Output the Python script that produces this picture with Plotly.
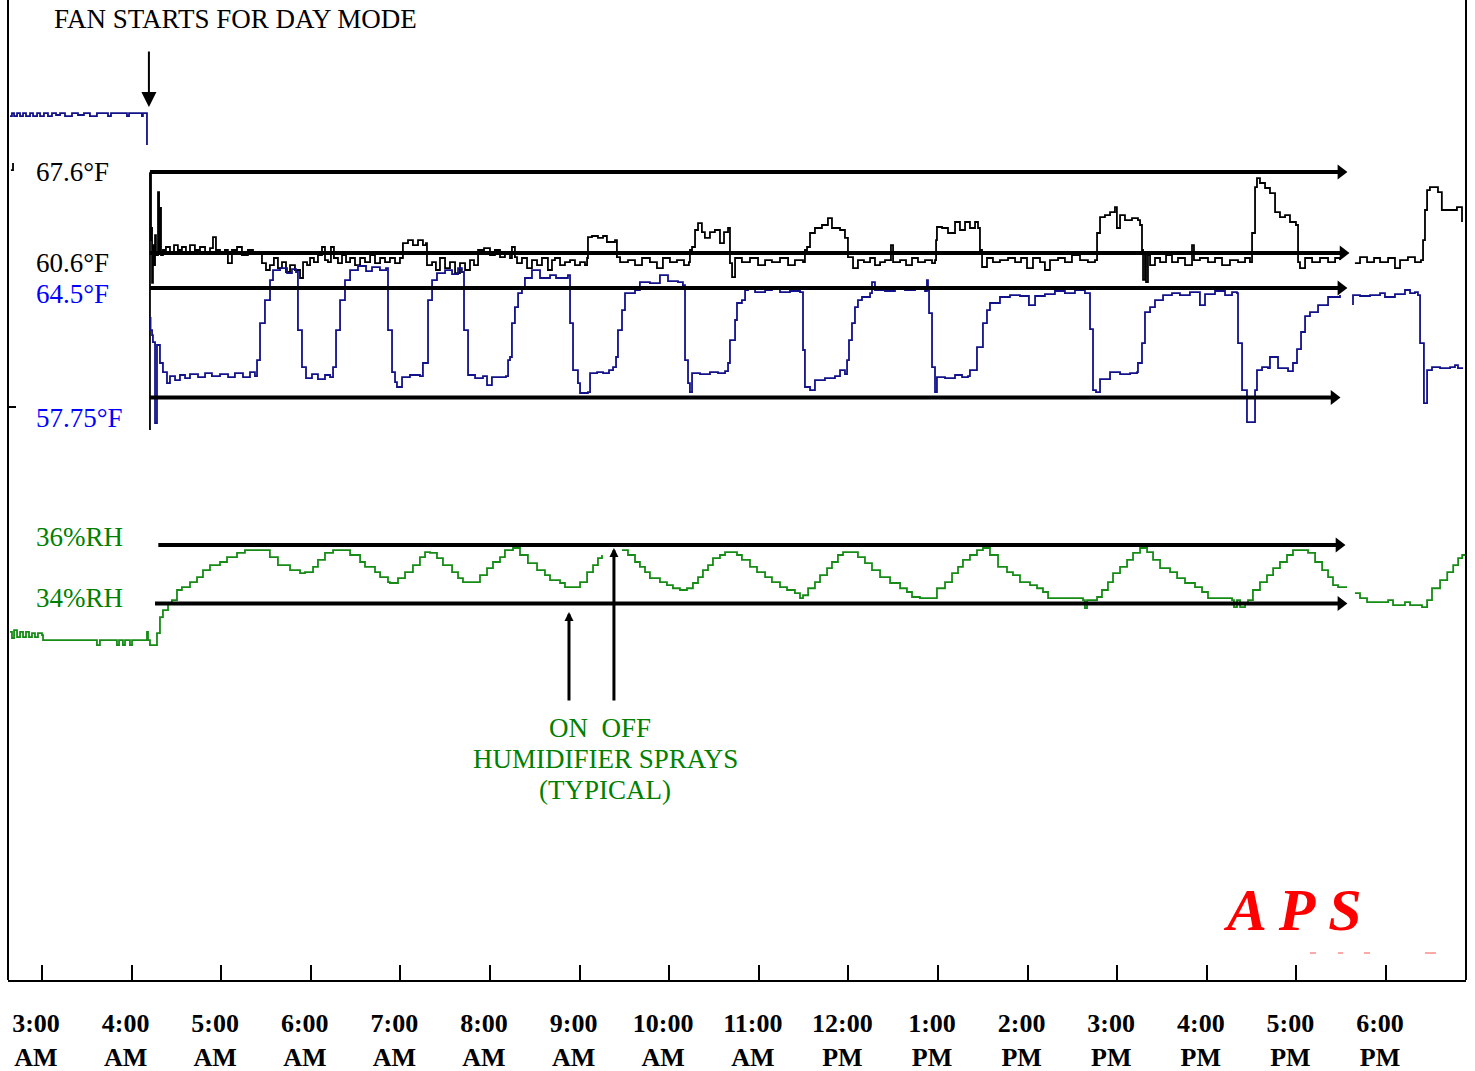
import plotly.graph_objects as go

FONT = "Liberation Serif"

# ---------------- axis ticks (minutes after midnight) ----------------
tick_minutes = [180, 240, 300, 360, 420, 480, 540, 600, 660, 720, 780, 840, 900, 960, 1020, 1080]
tick_labels = ["3:00<br>AM", "4:00<br>AM", "5:00<br>AM", "6:00<br>AM", "7:00<br>AM", "8:00<br>AM",
               "9:00<br>AM", "10:00<br>AM", "11:00<br>AM", "12:00<br>PM", "1:00<br>PM", "2:00<br>PM",
               "3:00<br>PM", "4:00<br>PM", "5:00<br>PM", "6:00<br>PM"]

# ---------------- blue temperature (°F) : (minute, value) ----------------
blue_night = [(158.6, 75.10), (159.9, 75.29), (161.3, 75.10), (163.3, 75.29), (165.3, 75.10), (167.3, 75.29),
              (169.3, 75.10), (172.0, 75.29), (174.0, 75.10), (176.7, 75.29), (178.7, 75.10), (181.3, 75.29),
              (184.0, 75.10), (186.7, 75.29), (189.4, 75.17), (192.1, 75.29), (195.4, 75.10), (200.1, 75.29),
              (204.1, 75.17), (208.1, 75.29), (212.1, 75.10), (216.8, 75.29), (221.5, 75.29), (224.2, 75.10),
              (226.2, 75.29), (235.6, 75.29), (236.9, 75.10), (238.3, 75.29), (245.6, 75.29), (246.9, 75.10),
              (247.6, 75.29), (250.3, 75.29), (250.3, 73.32)]
blue_day = [(252.7, 62.71), (252.7, 61.91), (253.7, 61.60), (254.3, 61.17), (255.7, 56.18), (257.0, 60.99),
            (259.0, 59.88), (261.0, 59.32), (263.7, 58.64), (265.7, 59.07), (269.1, 58.83), (272.4, 59.14),
            (275.8, 58.95), (279.1, 59.20), (284.5, 59.01), (289.2, 59.26), (293.8, 59.07), (299.2, 59.20),
            (304.6, 59.01), (309.2, 59.26), (314.6, 59.01), (319.3, 59.32), (322.6, 59.07), (324.0, 60.06),
            (326.0, 62.34), (329.3, 63.76), (332.7, 64.99), (334.7, 65.61), (339.4, 65.73), (344.1, 65.42),
            (347.4, 65.67), (350.1, 65.49), (351.4, 61.91), (354.1, 59.63), (356.8, 58.95), (360.8, 59.20),
            (364.8, 58.89), (369.5, 59.14), (372.9, 59.01), (374.9, 59.63), (376.9, 61.91), (379.6, 63.76),
            (382.9, 64.99), (386.3, 65.61), (391.6, 65.86), (397.0, 65.55), (401.0, 65.79), (406.3, 65.61),
            (410.4, 65.73), (411.7, 61.91), (414.4, 59.32), (416.4, 58.70), (417.7, 58.40), (421.1, 59.01),
            (426.4, 59.14), (433.1, 59.07), (435.1, 59.88), (438.5, 63.76), (441.2, 64.99), (444.5, 65.42),
            (449.9, 65.61), (454.6, 65.36), (458.6, 65.73), (461.2, 65.49), (462.6, 61.91), (465.3, 59.14),
            (470.0, 58.95), (475.3, 59.07), (478.0, 58.52), (481.3, 59.01), (486.7, 59.01), (490.7, 59.07),
            (492.1, 60.06), (493.4, 60.25), (494.7, 62.34), (496.7, 63.33), (498.8, 64.19), (501.4, 64.56),
            (503.4, 65.12), (508.1, 65.61), (513.5, 65.12), (520.2, 65.30), (524.2, 65.12), (532.2, 65.30),
            (533.6, 62.34), (535.6, 59.44), (538.9, 58.64), (540.3, 58.03), (545.6, 58.09), (547.0, 59.26),
            (551.7, 59.32), (555.7, 59.26), (559.7, 59.44), (562.4, 59.63), (564.4, 60.25), (565.7, 61.91),
            (568.4, 63.14), (570.4, 64.19), (577.1, 64.38), (580.4, 64.87), (587.1, 64.81), (593.8, 65.30),
            (599.2, 64.93), (605.9, 64.87), (609.2, 64.68), (610.6, 60.06), (612.6, 58.64), (613.9, 58.09),
            (615.3, 59.26), (620.6, 59.20), (627.3, 59.32), (632.7, 59.26), (637.4, 59.38), (639.4, 59.88),
            (640.7, 61.29), (644.1, 62.53), (645.4, 63.58), (648.7, 63.76), (650.8, 64.38), (652.8, 64.56),
            (657.5, 64.25), (664.2, 64.38), (668.8, 64.56), (674.2, 64.25), (680.9, 64.32), (687.6, 64.25),
            (688.9, 64.25), (689.6, 60.68), (690.9, 58.40), (694.3, 58.21), (697.6, 58.83), (704.3, 58.95),
            (711.0, 59.07), (714.4, 59.44), (717.7, 59.20), (719.1, 60.06), (720.4, 61.29), (722.4, 62.34),
            (724.4, 63.33), (726.4, 63.76), (729.1, 63.95), (734.5, 64.19), (735.8, 64.87), (737.8, 64.38),
            (744.5, 64.32), (751.2, 64.50), (757.9, 64.38), (764.6, 64.44), (771.3, 64.32), (772.6, 64.99),
            (773.3, 64.38), (774.0, 62.96), (776.0, 59.63), (778.0, 58.09), (779.3, 59.01), (784.7, 58.95),
            (791.4, 59.14), (796.1, 59.01), (800.1, 59.07), (801.4, 59.44), (806.1, 60.86), (810.1, 62.34),
            (812.8, 63.14), (814.8, 63.58), (821.5, 63.95), (828.2, 64.07), (834.9, 64.01), (840.9, 63.45),
            (845.0, 64.01), (851.6, 64.13), (858.3, 64.32), (865.0, 64.19), (871.7, 64.38), (878.4, 64.19),
            (881.1, 64.19), (881.8, 61.97), (883.8, 58.21), (885.8, 58.09), (888.5, 58.89), (895.2, 59.32),
            (901.9, 59.20), (908.6, 59.26), (913.3, 59.32), (913.9, 59.88), (916.6, 61.11), (918.6, 63.02),
            (922.0, 63.33), (925.3, 63.76), (930.7, 64.07), (936.7, 64.19), (942.0, 64.07), (948.7, 64.25),
            (955.4, 63.45), (958.8, 64.13), (965.5, 64.32), (972.2, 64.07), (976.9, 64.25), (980.2, 64.19),
            (980.9, 61.11), (983.6, 58.21), (986.9, 56.24), (990.9, 56.24), (992.3, 58.21), (993.6, 59.44),
            (997.0, 59.63), (1001.0, 59.57), (1002.3, 60.25), (1007.7, 59.57), (1014.4, 59.38), (1017.7, 59.88),
            (1020.4, 60.74), (1023.1, 61.79), (1025.8, 62.77), (1029.1, 63.02), (1034.5, 63.45), (1041.2, 63.95),
            (1049.2, 64.07)]
blue_evening = [(1057.9, 63.45), (1057.9, 64.07), (1062.6, 64.01), (1069.3, 64.07), (1076.0, 64.19),
                (1079.3, 63.95), (1086.0, 64.13), (1092.7, 64.38), (1096.1, 64.19), (1099.4, 64.25),
                (1101.4, 64.07), (1102.8, 61.11), (1105.4, 57.41), (1107.5, 59.44), (1110.8, 59.63),
                (1116.2, 59.57), (1122.9, 59.63), (1126.2, 59.75), (1128.2, 59.57), (1131.6, 59.57)]

# ---------------- black temperature (°F) ----------------
black_night = [(159.2, 67.77), (160.6, 68.38)]
black_day = [(252.3, 45.30), (252.3, 67.51), (253.0, 61.72), (253.7, 62.85), (253.7, 58.01), (254.3, 61.29),
             (255.0, 59.56), (255.7, 62.15), (256.3, 60.43), (257.7, 65.87), (258.4, 60.86), (259.0, 64.49),
             (259.7, 60.43), (261.0, 60.86), (263.0, 61.12), (265.7, 60.69), (268.4, 61.29), (271.0, 60.86),
             (273.7, 61.12), (276.4, 60.60), (279.1, 61.29), (282.4, 60.86), (285.8, 61.12), (289.2, 60.69),
             (292.5, 61.03), (294.5, 61.98), (296.5, 60.86), (299.2, 60.60), (302.5, 60.86), (304.5, 59.73),
             (307.2, 60.86), (310.6, 61.12), (313.9, 60.43), (317.9, 60.86), (321.3, 60.60), (324.6, 60.69),
             (327.3, 59.73), (330.0, 59.13), (332.6, 59.56), (335.3, 60.17), (338.0, 59.30), (340.7, 59.82),
             (343.4, 58.96), (346.1, 59.56), (349.4, 59.13), (352.8, 58.44), (354.8, 59.82), (357.5, 59.56),
             (359.5, 60.17), (362.1, 59.82), (364.8, 60.43), (367.5, 61.12), (369.5, 59.99), (371.5, 59.82),
             (373.5, 61.12), (375.5, 60.17), (378.2, 59.73), (380.9, 60.43), (383.6, 59.82), (386.3, 60.17),
             (389.6, 59.56), (393.0, 60.17), (396.3, 59.82), (399.7, 60.43), (403.0, 59.73), (406.4, 60.17),
             (409.7, 59.82), (413.0, 60.17), (416.4, 59.73), (419.7, 60.17), (421.7, 61.46), (425.1, 61.72),
             (428.4, 61.29), (431.8, 61.72), (435.1, 61.29), (437.1, 61.46), (437.8, 59.56), (441.2, 59.82),
             (443.8, 59.13), (446.5, 60.17), (449.9, 59.30), (453.2, 59.82), (456.6, 58.87), (459.9, 59.73),
             (463.3, 59.13), (466.6, 59.99), (469.3, 59.56), (472.0, 60.86), (476.0, 61.03), (480.0, 60.43),
             (483.3, 60.86), (486.7, 60.25), (490.0, 60.60), (493.4, 60.17), (494.7, 61.12), (496.7, 60.25),
             (498.1, 59.73), (501.4, 60.17), (504.8, 59.30), (508.1, 59.99), (511.5, 59.56), (514.8, 60.17),
             (518.8, 59.13), (521.5, 59.99), (523.5, 60.17), (526.9, 59.56), (530.2, 59.82), (533.6, 59.99),
             (536.9, 59.56), (540.3, 59.82), (543.6, 59.56), (545.0, 60.17), (545.6, 61.98), (548.3, 62.07),
             (552.3, 61.90), (555.7, 62.07), (558.3, 61.55), (562.4, 61.55), (563.7, 61.72), (565.0, 60.25),
             (567.1, 59.82), (572.4, 59.99), (577.1, 59.56), (581.8, 60.17), (587.1, 59.82), (591.8, 59.30),
             (595.8, 60.17), (600.5, 59.82), (605.2, 59.99), (609.9, 59.56), (613.2, 59.82), (613.9, 60.86),
             (615.3, 61.12), (617.3, 62.59), (619.3, 63.19), (621.9, 62.41), (623.9, 61.90), (627.3, 62.41),
             (630.6, 62.59), (634.0, 61.46), (636.7, 62.41), (639.4, 62.76), (640.7, 59.73), (642.1, 58.52),
             (644.1, 60.17), (648.7, 59.82), (654.1, 60.17), (659.5, 59.56), (664.2, 59.99), (668.8, 59.82),
             (674.2, 60.17), (679.6, 59.56), (684.2, 59.99), (689.6, 59.82), (690.9, 60.86), (692.3, 61.12),
             (694.3, 62.33), (697.6, 62.76), (702.3, 63.02), (706.3, 63.62), (709.0, 62.76), (711.0, 62.76),
             (714.4, 62.59), (717.7, 61.90), (719.1, 61.90), (719.7, 60.25), (723.1, 59.30), (726.4, 59.99),
             (730.4, 59.82), (734.5, 60.17), (737.8, 59.56), (741.2, 59.82), (744.5, 59.99), (748.5, 61.29),
             (749.9, 59.82), (754.6, 59.99), (758.6, 59.56), (762.6, 60.17), (766.6, 59.82), (771.3, 59.99),
             (776.0, 59.73), (778.0, 59.99), (778.7, 61.72), (779.3, 62.85), (782.7, 62.76), (786.7, 62.33),
             (791.4, 63.28), (794.7, 62.59), (798.1, 63.28), (801.4, 62.76), (804.8, 63.28), (806.8, 62.76),
             (808.1, 60.86), (809.5, 59.39), (812.8, 60.17), (816.8, 59.82), (821.5, 59.99), (826.9, 60.17),
             (831.6, 59.82), (835.6, 60.17), (839.6, 59.30), (843.6, 60.17), (848.3, 59.82), (851.6, 59.13),
             (855.0, 59.99), (860.4, 60.17), (865.0, 59.82), (869.7, 60.43), (875.1, 59.99), (880.4, 59.82),
             (885.1, 59.99), (886.5, 62.33), (888.5, 63.71), (891.8, 63.88), (895.2, 64.14), (898.5, 64.57),
             (899.8, 62.76), (901.9, 63.88), (905.2, 63.45), (909.9, 63.62), (913.9, 63.45), (915.3, 63.02),
             (916.6, 60.86), (917.3, 58.27), (918.6, 60.69), (919.3, 58.09), (920.6, 60.43), (922.0, 59.56),
             (925.3, 60.17), (928.7, 59.82), (932.7, 60.43), (936.7, 59.82), (940.7, 60.17), (945.4, 59.56),
             (950.1, 61.29), (951.4, 59.99), (955.4, 60.17), (960.8, 59.82), (965.5, 60.17), (970.2, 59.56),
             (975.5, 59.99), (980.9, 59.82), (985.6, 60.17), (988.9, 59.82), (990.3, 62.33), (992.3, 66.30),
             (993.6, 67.08), (995.6, 66.65), (999.0, 66.22), (1002.3, 65.78), (1005.7, 64.14), (1009.0, 63.71),
             (1012.4, 63.88), (1015.7, 63.28), (1019.7, 63.02), (1021.1, 59.82), (1022.4, 59.30), (1025.8, 60.17),
             (1030.5, 59.82), (1035.8, 60.17), (1041.2, 59.82), (1045.9, 60.17), (1049.2, 59.99)]
black_evening = [(1059.2, 59.73), (1062.6, 60.25), (1067.3, 59.82), (1072.0, 60.17), (1076.0, 59.82),
                 (1081.4, 60.17), (1086.0, 59.30), (1089.4, 59.99), (1094.7, 60.25), (1099.4, 59.82),
                 (1103.4, 59.99), (1104.8, 61.72), (1106.1, 64.32), (1107.5, 66.04), (1109.4, 66.30),
                 (1114.8, 65.87), (1117.4, 64.32), (1122.9, 64.32), (1127.5, 64.57), (1130.9, 63.28)]

# ---------------- relative humidity (%RH) ----------------
rh_night = [(158.6, 33.02), (159.9, 32.81), (161.3, 33.08), (163.3, 32.84), (165.3, 33.02), (167.3, 32.84),
            (169.3, 33.02), (171.3, 32.84), (173.3, 32.98), (175.3, 32.84), (177.3, 32.98), (180.0, 32.91),
            (180.7, 32.74), (192.1, 32.74), (202.1, 32.74), (215.5, 32.74), (216.8, 32.57), (218.8, 32.74),
            (228.9, 32.74), (230.2, 32.57), (231.6, 32.74), (234.2, 32.57), (235.6, 32.74), (238.9, 32.57),
            (240.3, 32.74), (249.6, 32.74), (250.3, 33.02), (251.0, 32.74), (252.3, 32.57), (254.3, 32.57),
            (257.0, 32.98), (259.0, 33.53), (261.0, 33.77), (264.4, 34.01), (267.0, 34.11), (270.4, 34.46),
            (273.7, 34.56), (279.1, 34.73), (283.8, 34.90), (287.8, 35.14), (292.5, 35.31), (299.2, 35.42),
            (303.9, 35.59), (310.6, 35.73), (315.9, 35.83), (327.3, 35.83), (332.6, 35.59), (338.0, 35.31),
            (346.1, 35.14), (352.8, 35.04), (356.1, 35.07), (361.5, 35.25), (364.8, 35.49), (369.5, 35.73),
            (374.9, 35.83), (382.9, 35.83), (386.3, 35.66), (393.0, 35.42), (396.3, 35.25), (403.0, 35.07),
            (406.4, 34.90), (411.7, 34.73), (413.0, 34.70), (418.4, 34.87), (423.1, 35.07), (428.4, 35.31),
            (433.1, 35.59), (436.5, 35.76), (439.8, 35.73), (444.5, 35.55), (448.5, 35.31), (454.6, 35.07),
            (458.6, 34.87), (461.9, 34.73), (470.0, 34.73), (473.3, 34.97), (478.0, 35.21), (482.0, 35.42),
            (486.7, 35.59), (490.0, 35.83), (495.4, 35.90), (500.1, 35.66), (505.4, 35.38), (511.5, 35.14),
            (516.8, 34.97), (520.2, 34.80), (526.9, 34.70), (530.2, 34.56), (538.3, 34.56), (540.3, 34.73),
            (545.0, 35.07), (549.0, 35.31), (552.3, 35.55), (555.0, 35.66)]
rh_day = [(568.4, 35.83), (572.4, 35.66), (577.1, 35.42), (580.4, 35.25), (583.8, 35.07), (587.1, 34.87),
          (593.8, 34.73), (598.5, 34.63), (602.5, 34.52), (607.2, 34.46), (611.9, 34.52), (615.9, 34.70),
          (619.3, 34.90), (622.6, 35.14), (626.0, 35.31), (629.3, 35.55), (634.0, 35.66), (637.4, 35.76),
          (642.1, 35.76), (645.4, 35.66), (648.7, 35.49), (654.1, 35.25), (658.8, 35.07), (664.2, 34.90),
          (668.8, 34.73), (674.2, 34.56), (678.9, 34.46), (684.2, 34.35), (687.6, 34.18), (689.6, 34.28),
          (693.0, 34.52), (697.6, 34.73), (701.0, 34.97), (705.7, 35.21), (709.0, 35.42), (713.0, 35.66),
          (716.4, 35.76), (723.1, 35.76), (726.4, 35.59), (731.1, 35.38), (735.8, 35.14), (741.2, 34.90),
          (747.9, 34.70), (754.6, 34.52), (759.2, 34.39), (762.6, 34.22), (767.9, 34.18), (776.6, 34.18),
          (779.3, 34.52), (784.7, 34.73), (789.4, 35.04), (793.4, 35.25), (796.7, 35.49), (801.4, 35.66),
          (806.1, 35.83), (810.1, 35.90), (814.8, 35.66), (820.2, 35.25), (826.2, 35.07), (830.2, 34.97),
          (834.9, 34.73), (841.6, 34.63), (846.3, 34.52), (850.3, 34.39), (853.7, 34.18), (873.1, 34.18),
          (877.1, 34.11), (878.4, 33.84), (879.8, 34.11), (883.8, 34.11), (886.5, 34.22), (889.8, 34.46),
          (893.8, 34.73), (897.2, 35.04), (901.9, 35.25), (906.6, 35.49), (910.6, 35.73), (915.3, 35.90),
          (920.0, 35.76), (924.0, 35.49), (928.7, 35.21), (935.4, 35.07), (940.1, 34.87), (945.4, 34.70),
          (952.1, 34.56), (956.8, 34.39), (960.8, 34.18), (964.2, 34.18), (976.9, 34.11), (978.2, 33.87),
          (980.2, 34.11), (982.3, 33.87), (985.6, 34.01), (987.6, 34.11), (990.9, 34.46), (995.6, 34.73),
          (1000.3, 34.97), (1004.4, 35.21), (1009.0, 35.42), (1013.7, 35.66), (1017.7, 35.83), (1024.4, 35.83),
          (1027.8, 35.73), (1032.5, 35.42), (1037.2, 35.14), (1041.2, 34.90), (1044.5, 34.63), (1047.9, 34.56),
          (1053.9, 34.56)]
rh_evening = [(1059.2, 34.35), (1062.6, 34.18), (1067.3, 34.04), (1079.3, 34.04), (1081.4, 34.11),
              (1084.7, 33.94), (1089.4, 33.94), (1092.7, 34.04), (1096.1, 33.94), (1102.8, 33.94),
              (1104.1, 33.87), (1107.5, 34.11), (1110.8, 34.52), (1116.2, 34.80), (1121.0, 35.07),
              (1125.0, 35.31), (1128.3, 35.55), (1131.0, 35.66), (1133.6, 35.76)]

# ---------------- set-point reference lines ----------------
black_setpoints = [67.6, 60.6]
blue_setpoints = [64.5, 57.75]
rh_setpoints = [36, 34]
black_setpoint_span = [(252.3, 1049.8), (252.3, 1051.2)]
blue_setpoint_span = [(252.3, 1049.8), (252.3, 1045.2)]
rh_setpoint_span = [(257.9, 1048.5), (255.7, 1049.8)]

BLACK = "#000000"
NAVY = "#12128a"
GREEN_LINE = "#168c16"
GREEN_TEXT = "#008000"
BLUE_TEXT = "#0000ff"


def join(*segments):
    xs, ys = [], []
    for i, seg in enumerate(segments):
        if i:
            xs.append(None)
            ys.append(None)
        for t, v in seg:
            xs.append(t)
            ys.append(v)
    return xs, ys


fig = go.Figure()

bx, by = join(black_night, black_day, black_evening)
fig.add_trace(go.Scatter(x=bx, y=by, yaxis="y", mode="lines", line=dict(color=BLACK, width=1.8, shape="hv"),
                         hoverinfo="skip", connectgaps=False))
ux, uy = join(blue_night, blue_day, blue_evening)
fig.add_trace(go.Scatter(x=ux, y=uy, yaxis="y2", mode="lines", line=dict(color=NAVY, width=1.8, shape="hv"),
                         hoverinfo="skip", connectgaps=False))
gx, gy = join(rh_night, rh_day, rh_evening)
fig.add_trace(go.Scatter(x=gx, y=gy, yaxis="y3", mode="lines", line=dict(color=GREEN_LINE, width=1.8, shape="hv"),
                         hoverinfo="skip", connectgaps=False))

for vals, spans, ax in [(black_setpoints, black_setpoint_span, "y"),
                        (blue_setpoints, blue_setpoint_span, "y2"),
                        (rh_setpoints, rh_setpoint_span, "y3")]:
    for v, (s, e) in zip(vals, spans):
        fig.add_trace(go.Scatter(x=[s, e], y=[v, v], yaxis=ax, mode="lines",
                                 line=dict(color=BLACK, width=4), hoverinfo="skip"))
        fig.add_trace(go.Scatter(x=[e], y=[v], yaxis=ax, mode="markers",
                                 marker=dict(symbol="triangle-right", size=13, color=BLACK),
                                 hoverinfo="skip"))

W, H = 1458.0, 980.0


def px(xp):
    return (xp - 8) / W


def py(yp):
    return 1 - yp / H


annotations = []


def label(text, x, y, color, xanchor="left", size=27, bold=False, italic=False):
    t = text
    if bold:
        t = "<b>" + t + "</b>"
    if italic:
        t = "<i>" + t + "</i>"
    annotations.append(dict(text=t, x=px(x), y=py(y), xref="paper", yref="paper", showarrow=False,
                            xanchor=xanchor, yanchor="middle",
                            font=dict(family=FONT, size=size, color=color)))


label("FAN STARTS FOR DAY MODE", 52, 19, BLACK)
label("67.6°F", 34, 172, BLACK)
label("60.6°F", 34, 263, BLACK)
label("64.5°F", 34, 294, BLUE_TEXT)
label("57.75°F", 34, 418, BLUE_TEXT)
label("36%RH", 34, 537, GREEN_TEXT)
label("34%RH", 34, 598, GREEN_TEXT)
label("ON\u00a0\u00a0OFF", 600, 728, GREEN_TEXT, xanchor="center")
label("HUMIDIFIER SPRAYS", 605, 759, GREEN_TEXT, xanchor="center")
label("(TYPICAL)", 605, 790, GREEN_TEXT, xanchor="center")
label("A P S", 1221, 910, "#ff0000", size=60, bold=True, italic=True)

# arrows: fan start, humidifier on / off
annotations.append(dict(x=251.6, y=py(107), xref="x", yref="paper", ax=0, ay=-57, axref="pixel", ayref="pixel",
                        showarrow=True, arrowhead=2, arrowsize=1.5, arrowwidth=2, arrowcolor=BLACK, text="",
                        standoff=0))
annotations.append(dict(x=532.9, y=py(612), xref="x", yref="paper", ax=0, ay=90, showarrow=True, arrowhead=2,
                        arrowsize=0.6, arrowwidth=3, arrowcolor=BLACK, text="", standoff=0))
annotations.append(dict(x=563.0, y=py(548), xref="x", yref="paper", ax=0, ay=154, showarrow=True, arrowhead=2,
                        arrowsize=0.6, arrowwidth=3, arrowcolor=BLACK, text="", standoff=0))

shapes = [
    dict(type="line", xref="paper", yref="paper", x0=0, x1=0, y0=0, y1=1, line=dict(color=BLACK, width=2)),
    dict(type="line", xref="paper", yref="paper", x0=1, x1=1, y0=0, y1=1, line=dict(color=BLACK, width=2)),
    dict(type="line", xref="paper", yref="paper", x0=0, x1=px(16), y0=py(407), y1=py(407),
         line=dict(color=BLACK, width=2)),
]
for a, b in [(1310, 1316), (1338, 1343), (1364, 1370), (1425, 1436)]:
    shapes.append(dict(type="line", xref="paper", yref="paper", x0=px(a), x1=px(b), y0=py(953), y1=py(953),
                       line=dict(color="#ff5050", width=1)))

fig.update_layout(
    width=1475, height=1071, autosize=False,
    margin=dict(l=8, r=9, t=0, b=91, pad=0, autoexpand=False),
    paper_bgcolor="white", plot_bgcolor="white",
    showlegend=False,
    xaxis=dict(range=[157.24, 1133.57], tickvals=tick_minutes,
               ticktext=["<b>" + t + "</b>" for t in tick_labels],
               ticks="inside", ticklen=15, tickwidth=1.5, tickcolor=BLACK,
               showline=True, linecolor=BLACK, linewidth=2,
               showgrid=False, zeroline=False, automargin=False,
               tickfont=dict(family=FONT, size=26, color=BLACK),
               ticklabelstandoff=19, ticklabelshift=-6),
    yaxis=dict(range=[-2.24, 82.47], visible=False, automargin=False),
    yaxis2=dict(range=[21.84, 82.26], overlaying="y", visible=False, automargin=False),
    yaxis3=dict(range=[21.08, 54.70], overlaying="y", visible=False, automargin=False),
    annotations=annotations,
    shapes=shapes,
)

fig.write_html("out.html")
